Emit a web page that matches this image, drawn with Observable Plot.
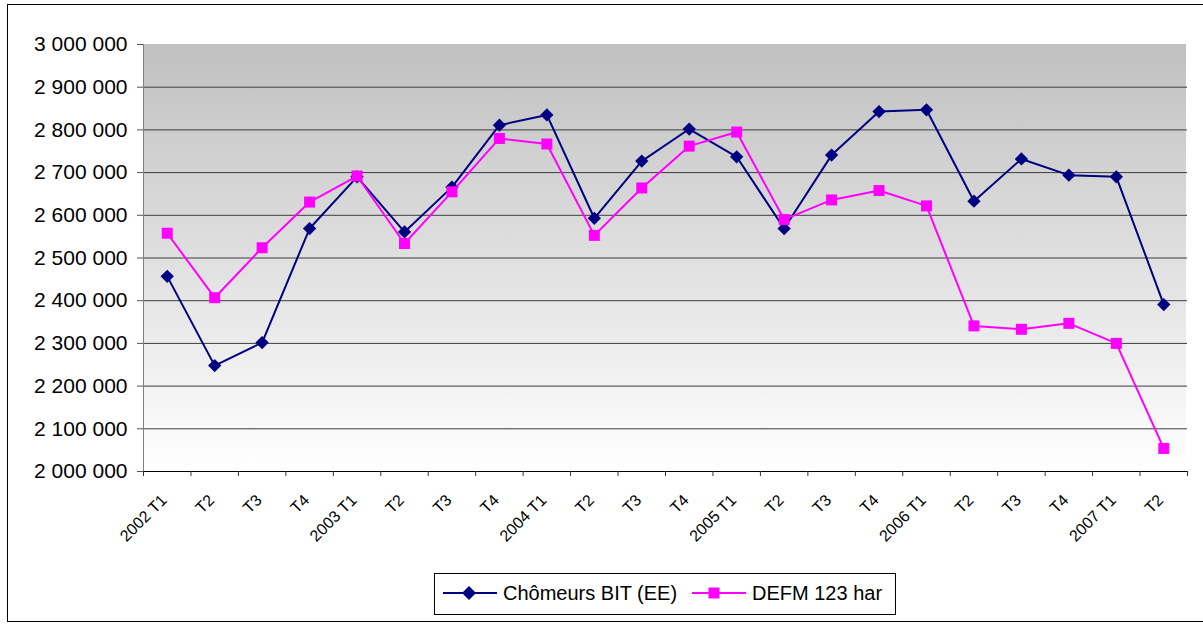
<!DOCTYPE html>
<html><head><meta charset="utf-8">
<script src="https://cdn.jsdelivr.net/npm/d3@7"></script>
<script src="https://cdn.jsdelivr.net/npm/@observablehq/plot@0.6"></script>
<style>
body{margin:0;background:#fff;font-family:Arial,"Liberation Sans",sans-serif;}
#wrap{position:relative;width:1203px;height:625px;overflow:hidden;background:#fff;}
#border{position:absolute;left:7px;top:4px;width:1220px;height:616px;border:1px solid #000;}
#chart{position:absolute;left:0;top:0;}
#legend{position:absolute;left:434px;top:573px;width:460px;height:40px;border:1px solid #000;background:#fff;}
#legend span{position:absolute;top:0;line-height:39px;font-size:20px;color:#000;white-space:nowrap;}
</style>
</head>
<body>
<div id="wrap">
  <div id="border"></div>
  <div id="chart"></div>
  <div id="legend">
    <svg width="460" height="40" style="position:absolute;left:0;top:0">
      <line x1="8" x2="62" y1="19" y2="19" stroke="#000080" stroke-width="2"/>
      <path d="M34,12L41,19L34,26L27,19Z" fill="#000080"/>
      <line x1="257" x2="311" y1="19" y2="19" stroke="#ff00ff" stroke-width="2"/>
      <rect x="273.5" y="13.5" width="11" height="11" fill="#ff00ff"/>
    </svg>
    <span style="left:68px">Chômeurs BIT (EE)</span>
    <span style="left:317px">DEFM 123 har</span>
  </div>
</div>
<script>
const categories = ["2002 T1","T2","T3","T4","2003 T1","T2","T3","T4","2004 T1","T2","T3","T4",
  "2005 T1","T2","T3","T4","2006 T1","T2","T3","T4","2007 T1","T2"];
const chomeursBIT = [2457000,2248000,2302000,2569000,2690000,2561000,2666000,2811000,2835000,2593000,2727000,2802000,
  2737000,2569000,2741000,2843000,2847000,2633000,2732000,2694000,2690000,2391000];
const defm123 = [2558000,2407000,2524000,2631000,2692000,2534000,2655000,2780000,2767000,2553000,2664000,2762000,
  2795000,2590000,2636000,2658000,2622000,2341000,2333000,2347000,2300000,2054000];
const yTicks = [2000000,2100000,2200000,2300000,2400000,2500000,2600000,2700000,2800000,2900000,3000000];

const n = categories.length;
const rows = categories.map((c, i) => ({i: i + 0.5, c, bit: chomeursBIT[i], defm: defm123[i]}));
const boundaries = d3.range(n + 1);
const fmt = v => d3.format(",")(v).replace(/,/g, " ");

const background = (index, {x, y}) => {
  const g = d3.create("svg:g");
  const lg = g.append("defs").append("linearGradient")
    .attr("id", "bgGrad").attr("x1", 0).attr("y1", 0).attr("x2", 0).attr("y2", 1);
  lg.append("stop").attr("offset", "0%").attr("stop-color", "#c0c0c0");
  lg.append("stop").attr("offset", "100%").attr("stop-color", "#ffffff");
  g.append("rect")
    .attr("x", x(0)).attr("y", y(yTicks[yTicks.length - 1]))
    .attr("width", x(n) - x(0) - 1).attr("height", y(yTicks[0]) - y(yTicks[yTicks.length - 1]))
    .attr("fill", "url(#bgGrad)");
  return g.node();
};

const chart = Plot.plot({
  width: 1203,
  height: 560,
  marginLeft: 143,
  marginRight: 16,
  marginTop: 44,
  marginBottom: 89,
  style: {fontFamily: "Arial, 'Liberation Sans', sans-serif", background: "transparent", overflow: "visible"},
  x: {domain: [0, n], label: null},
  y: {domain: [yTicks[0], yTicks[yTicks.length - 1]], label: null},
  marks: [
    background,
    Plot.ruleY(yTicks.slice(1, -1), {stroke: "#3c3c3c", strokeWidth: 1}),
    Plot.ruleY([yTicks[0]], {stroke: "#000", strokeWidth: 1}),
    Plot.ruleX([0], {y1: yTicks[0], y2: yTicks[yTicks.length - 1], stroke: "#808080"}),
    Plot.axisY(yTicks, {tickSize: 6, tickPadding: 10, tickFormat: fmt, fontSize: 21, stroke: "#555", label: null}),
    Plot.axisX(boundaries, {tickSize: 5, tickFormat: () => "", stroke: "#333", label: null}),
    Plot.text(rows, {x: "i", y: () => yTicks[0], text: "c", rotate: -45, textAnchor: "end",
      dx: -3, dy: 26, fontSize: 16, fill: "#000"}),
    Plot.line(rows, {x: "i", y: "bit", stroke: "#000080", strokeWidth: 2}),
    Plot.dot(rows, {x: "i", y: "bit", symbol: "diamond2", r: 6, fill: "#000080", stroke: "none"}),
    Plot.line(rows, {x: "i", y: "defm", stroke: "#ff00ff", strokeWidth: 2}),
    Plot.dot(rows, {x: "i", y: "defm", symbol: "square2", r: 7, fill: "#ff00ff", stroke: "none"})
  ]
});
document.getElementById("chart").appendChild(chart);
</script>
</body></html>
